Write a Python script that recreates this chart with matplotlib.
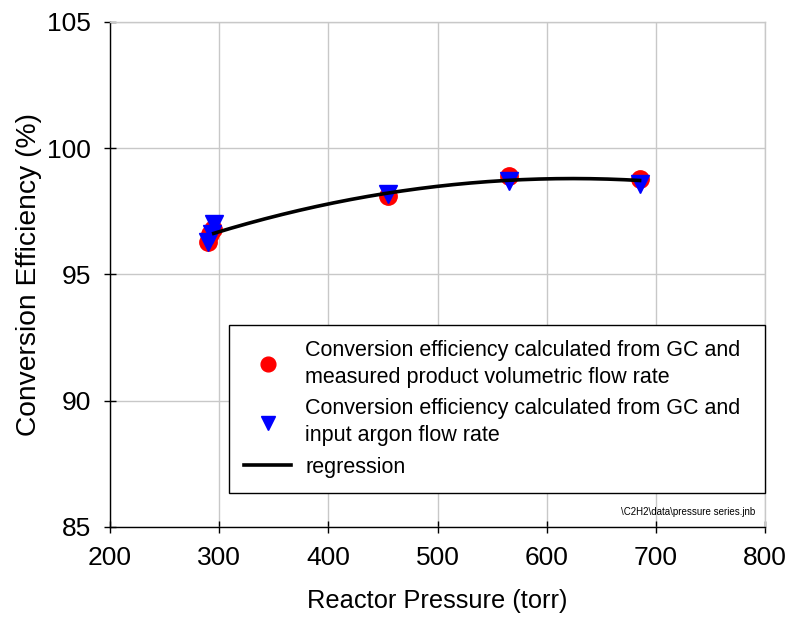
import numpy as np
import matplotlib
matplotlib.use("agg")
import matplotlib.pyplot as plt

plt.rcParams['font.family'] = ['Liberation Sans', 'DejaVu Sans']

# conversion efficiency from GC + measured product volumetric flow
p_flow = [290, 292, 294, 455, 565, 685]
eff_flow = [96.3, 96.6, 96.8, 98.1, 98.9, 98.8]

# conversion efficiency from GC + input argon flow
p_ar = [290, 293, 295, 455, 565, 685]
eff_ar = [96.3, 96.6, 97.0, 98.2, 98.7, 98.6]

x_ticks = [200, 300, 400, 500, 600, 700, 800]
y_ticks = [85, 90, 95, 100, 105]

# quadratic regression through both data sets
coef = np.polyfit(p_flow + p_ar, eff_flow + eff_ar, 2)
xr = np.linspace(295, 685, 200)
yr = np.polyval(coef, xr)

fig = plt.figure(figsize=(7.88, 6.28), dpi=100)
ax = fig.add_axes([0.1396, 0.161, 0.8314, 0.804])

ax.plot(p_flow, eff_flow, 'o', color='#ff0000', markersize=12.5, linestyle='none',
        label='Conversion efficiency calculated from GC and\nmeasured product volumetric flow rate', zorder=3)
ax.plot(p_ar, eff_ar, 'v', color='#0000ff', markersize=12.5, linestyle='none',
        label='Conversion efficiency calculated from GC and\ninput argon flow rate', zorder=4)
ax.plot(xr, yr, '-', color='black', linewidth=2.6, label='regression', zorder=5)

ax.set_xlim(200, 800)
ax.set_ylim(85, 105)
ax.set_xticks(x_ticks)
ax.set_yticks(y_ticks)
ax.grid(True, color='#c8c8c8', linewidth=1.0)
ax.set_axisbelow(True)
ax.tick_params(direction='inout', length=9, width=1, labelsize=19, pad=9)
for s in ax.spines.values():
    s.set_linewidth(1.0)
ax.spines['top'].set_color('#c8c8c8')
ax.spines['right'].set_color('#c8c8c8')

ax.set_xlabel('Reactor Pressure (torr)', fontsize=18.3, labelpad=14)
ax.set_ylabel('Conversion Efficiency (%)', fontsize=20.3, labelpad=4)

leg = ax.legend(loc='lower left', bbox_to_anchor=(0.1817, 0.0673, 0.8183, 0.3367),
                mode='expand', fontsize=15.5, fancybox=False, edgecolor='black', framealpha=1,
                handlelength=2.2, handletextpad=0.65, labelspacing=0.5,
                borderaxespad=0, borderpad=0.7, markerscale=0.85)
leg.get_frame().set_linewidth(1.0)
for t in leg.get_texts():
    t.set_linespacing(1.35)

ax.text(0.985, 0.03, r'\C2H2\data\pressure series.jnb', transform=ax.transAxes,
        ha='right', va='center', fontsize=7)

fig.savefig('out.png', dpi=100)
